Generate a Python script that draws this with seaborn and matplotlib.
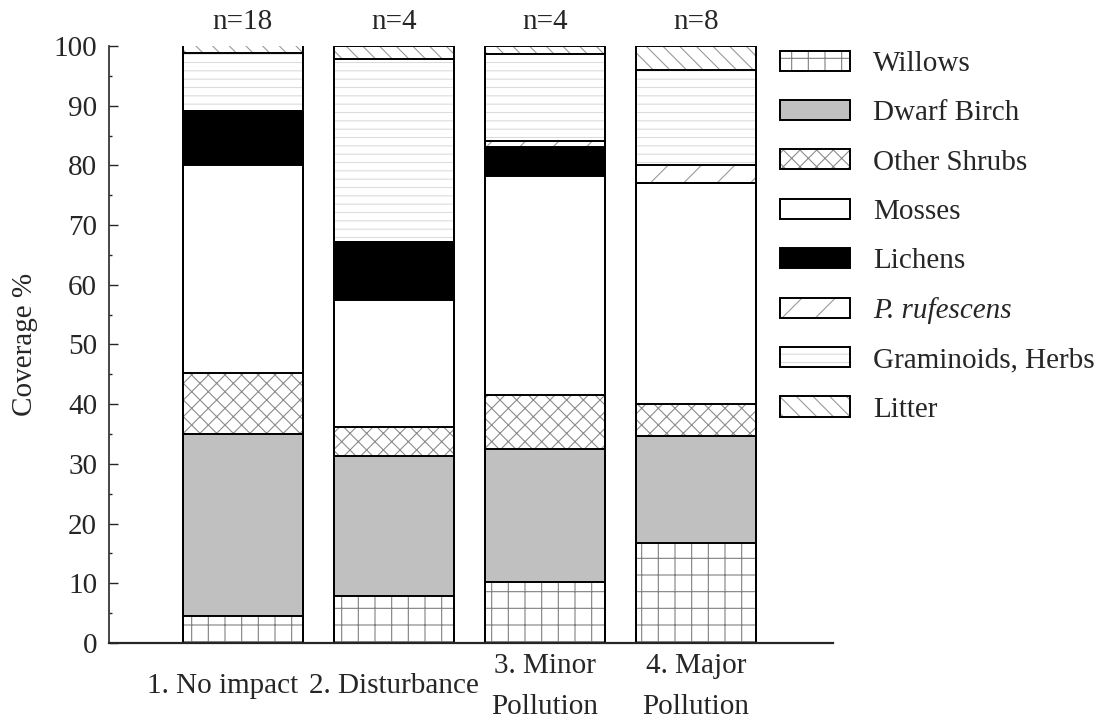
import numpy as np
import pandas as pd
import matplotlib
matplotlib.use('Agg')
import matplotlib.pyplot as plt
from matplotlib.patches import Patch
from matplotlib.ticker import MultipleLocator
from matplotlib.transforms import ScaledTranslation
import seaborn as sns

# dados (cobertura %, de baixo para cima)
SITIOS = ['1. No impact', '2. Disturbance', '3. Minor\nPollution', '4. Major\nPollution']
N_AMOSTRAS = ['n=18', 'n=4', 'n=4', 'n=8']

willows = [4.5, 7.8, 10.2, 16.8]
dwarf_birch = [30.5, 23.5, 22.3, 17.8]
other_shrubs = [10.3, 4.9, 9.0, 5.4]
mosses = [34.8, 21.2, 36.7, 37.1]
lichens = [9.0, 9.8, 4.8, 0.0]
p_rufescens = [0.0, 0.0, 1.0, 3.0]
graminoids = [9.8, 30.6, 14.7, 15.9]
litter = [1.2, 2.2, 1.3, 4.0]

CAMADAS = ['Willows', 'Dwarf Birch', 'Other Shrubs', 'Mosses', 'Lichens',
           'P. rufescens', 'Graminoids, Herbs', 'Litter']
VALORES = [willows, dwarf_birch, other_shrubs, mosses, lichens,
           p_rufescens, graminoids, litter]

# (face, hatch, cor do hatch)
ESTILOS = [
    ('white', '+', '#808080'),
    ('#c0c0c0', '', '#c0c0c0'),
    ('white', 'xx', '#8c8c8c'),
    ('white', '', 'white'),
    ('black', '', 'black'),
    ('white', '/', '#9a9a9a'),
    ('white', '--', '#dcdcdc'),
    ('white', '\\\\', '#9a9a9a'),
]

FONTE = 21


def montar_tabela():
    df = pd.DataFrame({nome: vals for nome, vals in zip(CAMADAS, VALORES)})
    df.insert(0, 'Sitio', SITIOS)
    return df


def plotar(df):
    fig = plt.figure(figsize=(10.99, 7.25), dpi=100)
    ax = fig.add_axes([0.0992, 0.1131, 0.6588, 0.8235])

    acumulado = df[CAMADAS].cumsum(axis=1)

    # preenchimento: do topo para a base, cada barra cobre a de cima
    for i in range(len(CAMADAS) - 1, -1, -1):
        face, hatch, hcor = ESTILOS[i]
        sns.barplot(x=df['Sitio'], y=acumulado[CAMADAS[i]], ax=ax,
                    errorbar=None, width=0.8, saturation=1,
                    facecolor=face, edgecolor=hcor, hatch=hatch, linewidth=0)

    # contornos
    for i in range(len(CAMADAS)):
        sns.barplot(x=df['Sitio'], y=acumulado[CAMADAS[i]], ax=ax,
                    errorbar=None, width=0.8, saturation=1,
                    facecolor='none', edgecolor='black', linewidth=1.4)

    ax.set_xlim(-0.887, 3.907)
    ax.set_ylim(0, 100)
    ax.set_xlabel('')
    ax.set_ylabel('Coverage %', fontsize=FONTE)
    ax.yaxis.set_label_coords(-0.098, 0.5)

    ax.yaxis.set_major_locator(MultipleLocator(10))
    ax.yaxis.set_minor_locator(MultipleLocator(5))
    ax.tick_params(axis='y', which='major', direction='in', length=6.5,
                   width=1, labelsize=FONTE, pad=8.5)
    ax.tick_params(axis='y', which='minor', direction='in', length=2.5, width=1)
    ax.tick_params(axis='x', length=0, labelsize=FONTE, pad=31)
    for lab in ax.get_xticklabels():
        lab.set_verticalalignment('center')
        lab.set_linespacing(1.75)
    # primeiro rótulo deslocado para a esquerda, como no original
    rot1 = ax.get_xticklabels()[0]
    rot1.set_transform(rot1.get_transform() + ScaledTranslation(-0.2, 0, fig.dpi_scale_trans))

    for lado in ['top', 'right']:
        ax.spines[lado].set_visible(False)
    ax.spines['left'].set_linewidth(1.2)
    ax.spines['bottom'].set_linewidth(1.6)

    for i, n in enumerate(N_AMOSTRAS):
        ax.text(i, 104.0, n, ha='center', va='center', fontsize=FONTE, clip_on=False)

    handles = []
    for face, hatch, hcor in ESTILOS:
        handles.append((Patch(facecolor=face, edgecolor=hcor, hatch=hatch, linewidth=0),
                        Patch(facecolor='none', edgecolor='black', linewidth=1.4)))
    leg = fig.legend(handles, CAMADAS, loc='upper left', bbox_to_anchor=(0.7097, 0.93),
                     frameon=False, fontsize=FONTE, handlelength=2.4, handleheight=0.68,
                     handletextpad=0.79, labelspacing=0.79, borderpad=0, borderaxespad=0)
    leg.get_texts()[5].set_fontstyle('italic')

    fig.savefig('out.png', dpi=100)
    plt.close(fig)


def main():
    sns.set_theme(style='ticks')
    plt.rcParams['font.family'] = ['Liberation Serif', 'DejaVu Serif']
    plt.rcParams['hatch.linewidth'] = 0.8
    plotar(montar_tabela())


if __name__ == '__main__':
    main()
